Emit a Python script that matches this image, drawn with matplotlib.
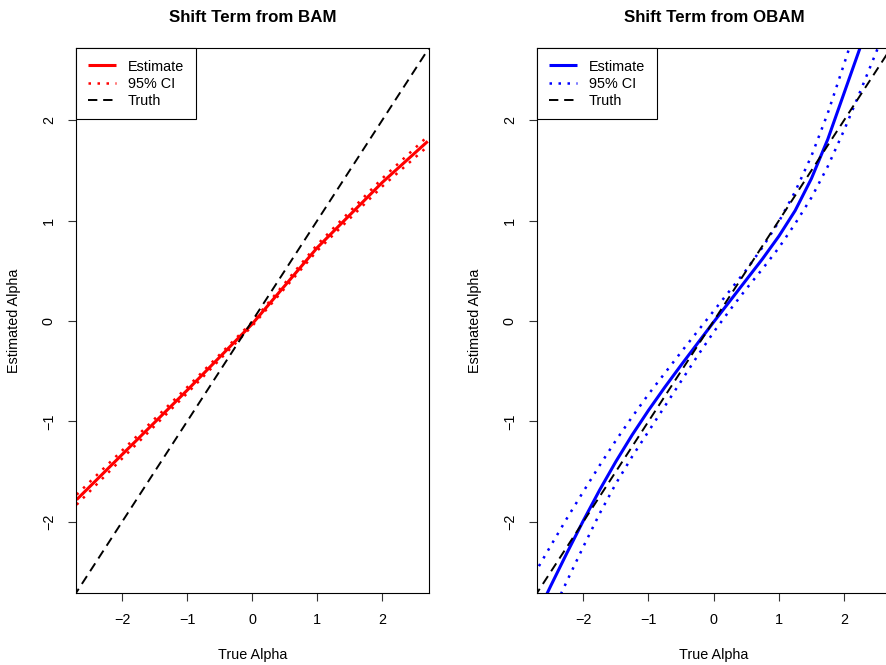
import matplotlib
matplotlib.use("Agg")
import matplotlib.pyplot as plt

plt.rcParams["font.family"] = ["Liberation Sans", "DejaVu Sans"]

# BAM fit of the shift term
bam_x = [-2.7, -2.0, -1.0, 0.0, 1.0, 2.0, 2.7]
bam_est = [-1.78, -1.33, -0.69, -0.03, 0.73, 1.38, 1.79]
bam_upper = [-1.73, -1.29, -0.66, -0.01, 0.76, 1.42, 1.84]
bam_lower = [-1.83, -1.37, -0.72, -0.05, 0.70, 1.34, 1.74]

# OBAM fit of the shift term
obam_x = [-2.75, -2.5, -2.25, -2.0, -1.75, -1.5, -1.25, -1.0, -0.75, -0.5, -0.25,
          0.0, 0.25, 0.5, 0.75, 1.0, 1.25, 1.5, 1.75, 2.0, 2.25, 2.5, 2.75]
obam_est = [-2.98, -2.64, -2.31, -1.99, -1.685, -1.40, -1.135, -0.89, -0.66, -0.44, -0.225,
            -0.01, 0.20, 0.41, 0.62, 0.845, 1.10, 1.42, 1.81, 2.27, 2.73, 3.20, 3.67]
obam_upper = [-2.52, -2.24, -1.965, -1.70, -1.44, -1.19, -0.955, -0.73, -0.52, -0.31, -0.105,
              0.10, 0.305, 0.51, 0.735, 0.99, 1.29, 1.645, 2.07, 2.56, 3.06, 3.56, 4.06]
obam_lower = [-3.29, -2.94, -2.59, -2.25, -1.92, -1.62, -1.35, -1.10, -0.85, -0.60, -0.35,
              -0.11, 0.11, 0.32, 0.52, 0.73, 0.97, 1.23, 1.54, 1.90, 2.29, 2.69, 3.09]

truth = [-3, 3]
xticks = [-2, -1, 0, 1, 2]
yticks = [-2, -1, 0, 1, 2]
lim = (-2.71, 2.72)

fig = plt.figure(figsize=(8.87, 6.65), dpi=100)
ax1 = fig.add_axes([76 / 887, 1 - 593 / 665, 353 / 887, 545 / 665])
ax2 = fig.add_axes([537 / 887, 1 - 593 / 665, 354 / 887, 545 / 665])

panels = [
    (ax1, bam_x, bam_est, bam_upper, bam_lower, "red", "Shift Term from BAM"),
    (ax2, obam_x, obam_est, obam_upper, obam_lower, "blue", "Shift Term from OBAM"),
]

for ax, x, est, up, lo, col, title in panels:
    ax.plot(x, est, color=col, lw=2.2, label="Estimate", solid_capstyle="butt")
    ax.plot(x, up, color=col, lw=1.8, ls=(0, (1, 2.6)), label="95% CI")
    ax.plot(x, lo, color=col, lw=1.8, ls=(0, (1, 2.6)))
    ax.plot(truth, truth, color="black", lw=1.4, ls=(0, (4.8, 3)), label="Truth")
    ax.set_xlim(lim)
    ax.set_ylim(lim)
    ax.set_xticks(xticks)
    ax.set_yticks(yticks)
    ax.tick_params(direction="out", length=6, width=0.8, labelsize=10.4,
                   color="#333333")
    ax.tick_params(axis="x", pad=8.5)
    ax.tick_params(axis="y", pad=8.5)
    plt.setp(ax.get_yticklabels(), rotation=90, va="center")
    for s in ax.spines.values():
        s.set_linewidth(0.8)
    ax.set_xlabel("True Alpha", fontsize=10.4, labelpad=15)
    ax.set_ylabel("Estimated Alpha", fontsize=10.4, labelpad=15)
    ax.set_title(title, fontsize=12.2, fontweight="bold", pad=19)
    leg = ax.legend(loc="upper left", fontsize=10.4, borderaxespad=0,
                    fancybox=False, edgecolor="black", framealpha=1,
                    handlelength=2.0, handletextpad=0.8, labelspacing=0.22,
                    borderpad=0.8)
    leg.get_frame().set_linewidth(0.8)

fig.savefig("out.png", dpi=100)
